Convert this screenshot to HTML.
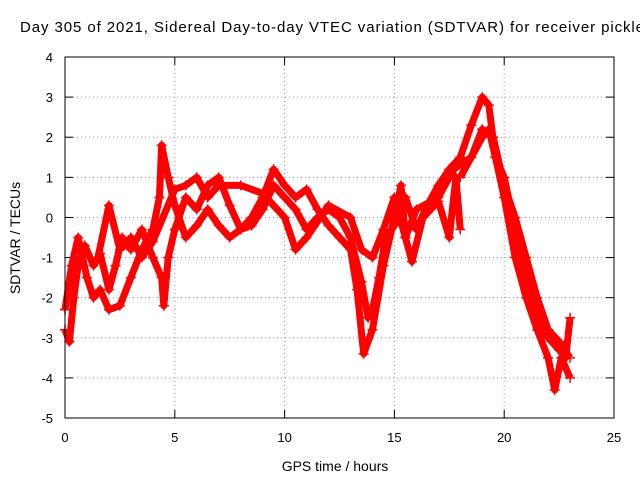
<!DOCTYPE html>
<html><head><meta charset="utf-8"><style>
body{margin:0;background:#fff}
svg{display:block;font-family:"Liberation Sans",Arial,sans-serif}
</style></head><body>
<svg id="chart" width="640" height="480">
<text x="20" y="32" font-size="15" textLength="624" lengthAdjust="spacing" fill="#000">Day 305 of 2021, Sidereal Day-to-day VTEC variation (SDTVAR) for receiver pickle</text>
<g id="grid"></g><g id="axes"></g><g id="series"></g>
<rect x="65" y="57" width="549" height="361" fill="none" stroke="#000"/>
<text x="335" y="471" font-size="14" text-anchor="middle">GPS time / hours</text>
<text transform="translate(20,238) rotate(-90)" font-size="14" text-anchor="middle">SDTVAR / TECUs</text>
</svg>
<script>
const xTicks=[0,5,10,15,20,25];
const yTicks=[4,3,2,1,0,-1,-2,-3,-4,-5];
const trace1=[[0,-2.8],[0.2,-3.1],[0.4,-2],[0.6,-1.2],[0.9,-0.7],[1.3,-1.2],[1.6,-0.9],[2,-1.8],[2.3,-1.2],[2.6,-0.5],[3,-0.8],[3.5,-0.3],[4,-1],[4.4,-1.5],[4.5,-2.2],[4.7,-1],[5,-0.3],[5.5,0.5],[6,0.2],[6.5,0.8],[7,1],[7.5,0.3],[8,-0.3],[8.5,-0.2],[9,0.2],[9.5,0.8],[10,0.5],[10.5,0.2],[11,-0.3],[11.5,0],[12,0.2],[12.5,0],[13,-0.5],[13.5,-1.6],[13.8,-2.5],[14,-2.3],[14.3,-1.5],[14.6,-0.5],[15,-0.2],[15.5,0.5],[16,-0.3],[16.5,0.3],[17,0.8],[17.5,1.2],[18,1.5],[18.5,2.3],[19,3],[19.3,2.8],[19.6,1.5],[20,0.5],[20.5,-1],[21,-2],[21.5,-2.8],[22,-3.5],[22.3,-4.3],[22.6,-3.5],[23,-4]];
const trace2=[[0,-2.3],[0.3,-1.2],[0.6,-0.5],[1,-1.5],[1.3,-2],[1.6,-1.8],[2,-2.3],[2.5,-2.2],[3,-1.5],[3.5,-0.8],[4,-0.3],[4.3,0.5],[4.4,1.8],[4.7,1],[5,0.3],[5.5,-0.5],[6,-0.2],[6.5,0.2],[7,-0.2],[7.5,-0.5],[8,-0.3],[8.5,0],[9,0.5],[9.5,1.2],[10,0.8],[10.5,0.5],[11,0.7],[11.5,0.2],[12,-0.2],[12.5,-0.5],[13,-0.8],[13.3,-1.8],[13.6,-3.4],[14,-2.8],[14.5,-1.2],[15,0],[15.3,0.8],[15.5,-0.5],[15.8,-1.1],[16.3,0],[17,0.4],[17.5,-0.5],[17.8,1],[18,-0.3]];
const trace3=[[1.5,-1],[2,0.3],[2.5,-0.8],[3,-0.5],[3.5,-1],[4,-0.6],[5,0.7],[5.5,0.8],[6,1],[6.5,0.5],[7,0.8],[8,0.8],[9,0.6],[10,0],[10.5,-0.8],[11,-0.5],[12,0.3],[13,0],[13.5,-0.8],[14,-1],[14.5,-0.3],[15,0.5],[15.5,-0.5],[16,0.2],[17,0.5],[17.7,1.2],[18.5,1.5],[19,2.2],[19.5,2],[20,0.8],[20.5,0],[21,-1],[21.5,-2],[22,-2.8],[22.5,-3.1],[23,-3.5]];
const trace4=[[18,1],[18.5,1.5],[19,2],[19.3,2.2],[19.6,1.5],[20,1],[20.5,-0.3],[21,-1.5],[21.5,-2.5],[22,-3],[22.5,-3.3],[22.8,-3.5],[23,-2.5]];
const NS="http://www.w3.org/2000/svg";
const X=v=>65+v*549/25, Y=v=>57+(4-v)*361/9;
const grid=document.getElementById('grid'),axes=document.getElementById('axes'),ser=document.getElementById('series');
function mk(t,a,p){const e=document.createElementNS(NS,t);for(const k in a)e.setAttribute(k,a[k]);p.appendChild(e);return e;}
xTicks.forEach(v=>{
 if(v>0&&v<25){const g=mk('line',{x1:X(v),x2:X(v),y1:57,y2:418,stroke:'#999','stroke-dasharray':'1,3'},grid);
 
 }
 mk('line',{x1:X(v),x2:X(v),y1:418,y2:410,stroke:'#000'},axes);
 mk('line',{x1:X(v),x2:X(v),y1:57,y2:65,stroke:'#000'},axes);
 const t=mk('text',{x:X(v),y:442,'font-size':13,'text-anchor':'middle'},axes);t.textContent=v;
 
 
});
yTicks.forEach(v=>{
 if(v<4&&v>-5){const g=mk('line',{x1:65,x2:614,y1:Y(v),y2:Y(v),stroke:'#999','stroke-dasharray':'1,3'},grid);
 
 }
 mk('line',{x1:65,x2:73,y1:Y(v),y2:Y(v),stroke:'#000'},axes);
 mk('line',{x1:606,x2:614,y1:Y(v),y2:Y(v),stroke:'#000'},axes);
 const t=mk('text',{x:53,y:Y(v)+5,'font-size':13,'text-anchor':'end'},axes);t.textContent=v;
 
 
});
[trace1,trace2,trace3,trace4].forEach((tr,i)=>{
 const g=mk('g',{},ser);
 
 
 mk('polyline',{points:tr.map(p=>X(p[0])+','+Y(p[1])).join(' '),fill:'none',stroke:'#f00','stroke-width':7,'stroke-linejoin':'round'},g);
 tr.forEach(p=>{const x=X(p[0]),y=Y(p[1]);
  mk('path',{d:`M${x-5},${y}H${x+5}M${x},${y-5}V${y+5}`,stroke:'#f00','stroke-width':1.5},g);});
});
</script>
</body></html>
